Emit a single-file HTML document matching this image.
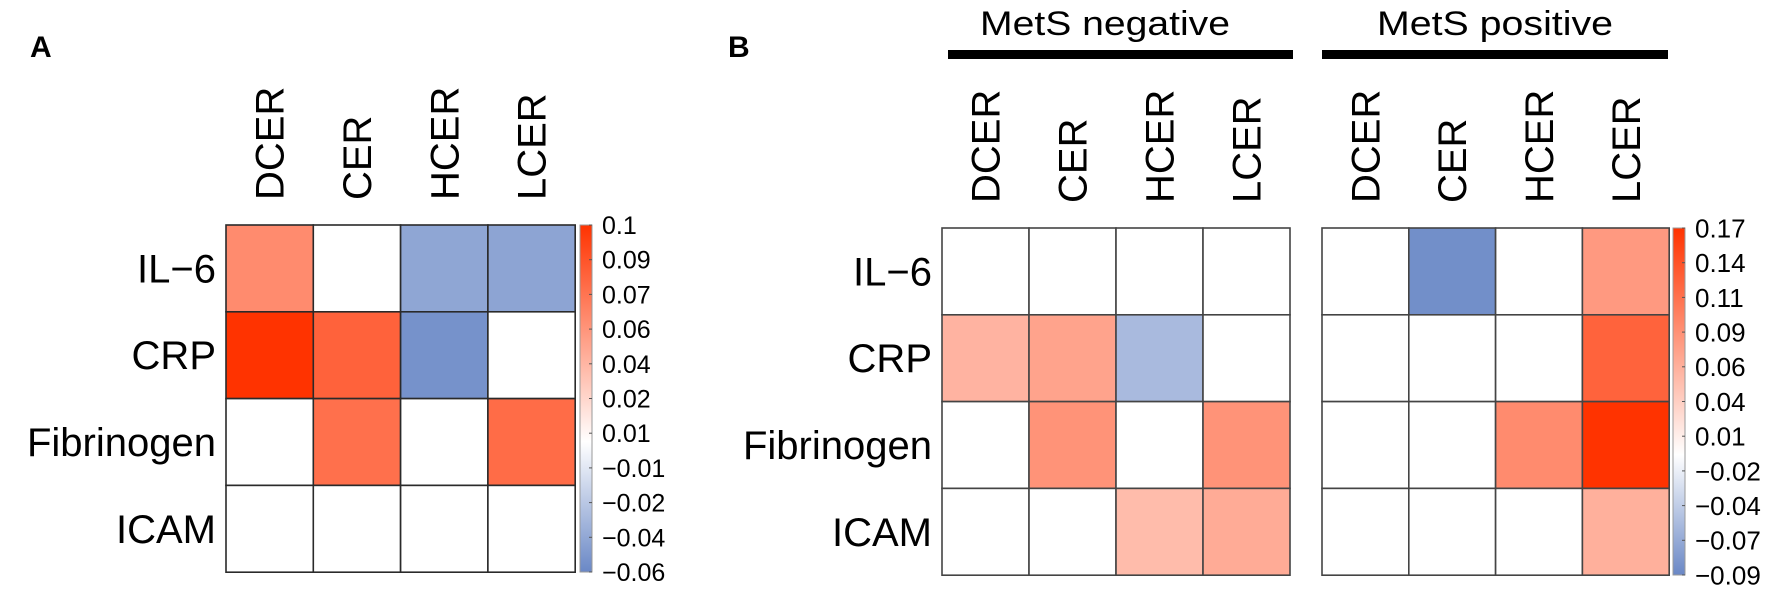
<!DOCTYPE html>
<html><head><meta charset="utf-8">
<style>
html,body{margin:0;padding:0;background:#fff;}
svg{display:block;font-family:"Liberation Sans",sans-serif;}
</style></head>
<body>
<svg id="fig" width="1772" height="591" viewBox="0 0 1772 591">
  <text x="30" y="57" font-size="30" font-weight="bold">A</text>
  <text x="728" y="57" font-size="30" font-weight="bold">B</text>
  <text x="980" y="35" font-size="34" textLength="250" lengthAdjust="spacingAndGlyphs">MetS negative</text>
  <rect x="948" y="50" width="345" height="9" fill="#000"/>
  <text x="1377" y="35" font-size="34" textLength="236" lengthAdjust="spacingAndGlyphs">MetS positive</text>
  <rect x="1322" y="50" width="346" height="9" fill="#000"/>
  <defs>
    <linearGradient id="gA" x1="0" y1="0" x2="0" y2="1">
      <stop offset="0" stop-color="#FF3300"/><stop offset="0.625" stop-color="#FFFFFF"/><stop offset="1" stop-color="#6A88C6"/>
    </linearGradient>
    <linearGradient id="gB" x1="0" y1="0" x2="0" y2="1">
      <stop offset="0" stop-color="#FF3300"/><stop offset="0.654" stop-color="#FFFFFF"/><stop offset="1" stop-color="#6A88C6"/>
    </linearGradient>
  </defs>
</svg>
<script>
const rowsLabels = ["IL\u22126", "CRP", "Fibrinogen", "ICAM"];
const colLabels = ["DCER", "CER", "HCER", "LCER"];
const valuesA = [
  [0.057, 0, -0.045, -0.046],
  [0.1, 0.077, -0.055, 0],
  [0, 0.07, 0, 0.072],
  [0, 0, 0, 0]
];
const valuesBneg = [
  [0, 0, 0, 0],
  [0.063, 0.077, -0.052, 0],
  [0, 0.09, 0, 0.09],
  [0, 0, 0.056, 0.07]
];
const valuesBpos = [
  [0, -0.085, 0, 0.085],
  [0, 0, 0, 0.13],
  [0, 0, 0.097, 0.17],
  [0, 0, 0, 0.066]
];
const ticksA = ["0.1","0.09","0.07","0.06","0.04","0.02","0.01","\u22120.01","\u22120.02","\u22120.04","\u22120.06"];
const ticksB = ["0.17","0.14","0.11","0.09","0.06","0.04","0.01","\u22120.02","\u22120.04","\u22120.07","\u22120.09"];
const rangeA = [-0.06, 0.1];
const rangeB = [-0.09, 0.17];

const NS = "http://www.w3.org/2000/svg";
const svg = document.getElementById("fig");
function mk(tag, attrs){const e=document.createElementNS(NS,tag);for(const k in attrs)e.setAttribute(k,attrs[k]);svg.appendChild(e);return e;}
function color(v, range){
  const red=[255,51,0], blue=[106,136,198];
  let f, c;
  if(v>=0){f=Math.min(1,v/range[1]);c=red;}else{f=Math.min(1,v/range[0]);c=blue;}
  const r=Math.round(255+(c[0]-255)*f),g=Math.round(255+(c[1]-255)*f),b=Math.round(255+(c[2]-255)*f);
  return `rgb(${r},${g},${b})`;
}
function heatmap(vals, range, x0, y0, cw, ch, prefix, showRows, stroke){
  for(let i=0;i<vals.length;i++){
    for(let j=0;j<vals[i].length;j++){
      const r=mk("rect",{x:x0+j*cw,y:y0+i*ch,width:cw,height:ch,fill:color(vals[i][j],range),stroke:stroke,"stroke-width":1.6});
      
      
    }
  }
  for(let j=0;j<colLabels.length;j++){
    const cx=x0+j*cw+cw/2+14, cy=y0-25;
    const t=mk("text",{x:cx,y:cy,"font-size":40,transform:`rotate(-90 ${cx} ${cy})`});
    t.textContent=colLabels[j];
    
    
  }
  if(showRows){
    for(let i=0;i<rowsLabels.length;i++){
      const t=mk("text",{x:x0-10,y:y0+i*ch+ch/2+14,"font-size":40,"text-anchor":"end"});
      t.textContent=rowsLabels[i];
      
      
    }
  }
}
function colorbar(x,y,w,h,grad,ticks,prefix,fs){
  const r=mk("rect",{x:x,y:y,width:w,height:h,fill:`url(#${grad})`,stroke:"#999","stroke-width":1});
  
  
  for(let k=0;k<ticks.length;k++){
    const ty=y+k*h/(ticks.length-1);
    const tk=mk("line",{x1:x+w-3,x2:x+w,y1:ty,y2:ty,stroke:"#555","stroke-width":1});
    
    
    const t=mk("text",{x:x+w+10,y:ty+fs*0.36,"font-size":fs});
    t.textContent=ticks[k];
    
    
  }
}
heatmap(valuesA, rangeA, 226, 225, 87.3, 86.8, "panel-a", true, "#2a2a2a");
colorbar(580, 225, 12, 347, "gA", ticksA, "panel-a", 25);
heatmap(valuesBneg, rangeB, 942, 228, 87, 86.8, "mets-negative", true, "#444");
heatmap(valuesBpos, rangeB, 1322, 228, 86.8, 86.8, "mets-positive", false, "#444");
colorbar(1673, 228, 12, 347, "gB", ticksB, "panel-b", 26);
</script>
</body></html>
